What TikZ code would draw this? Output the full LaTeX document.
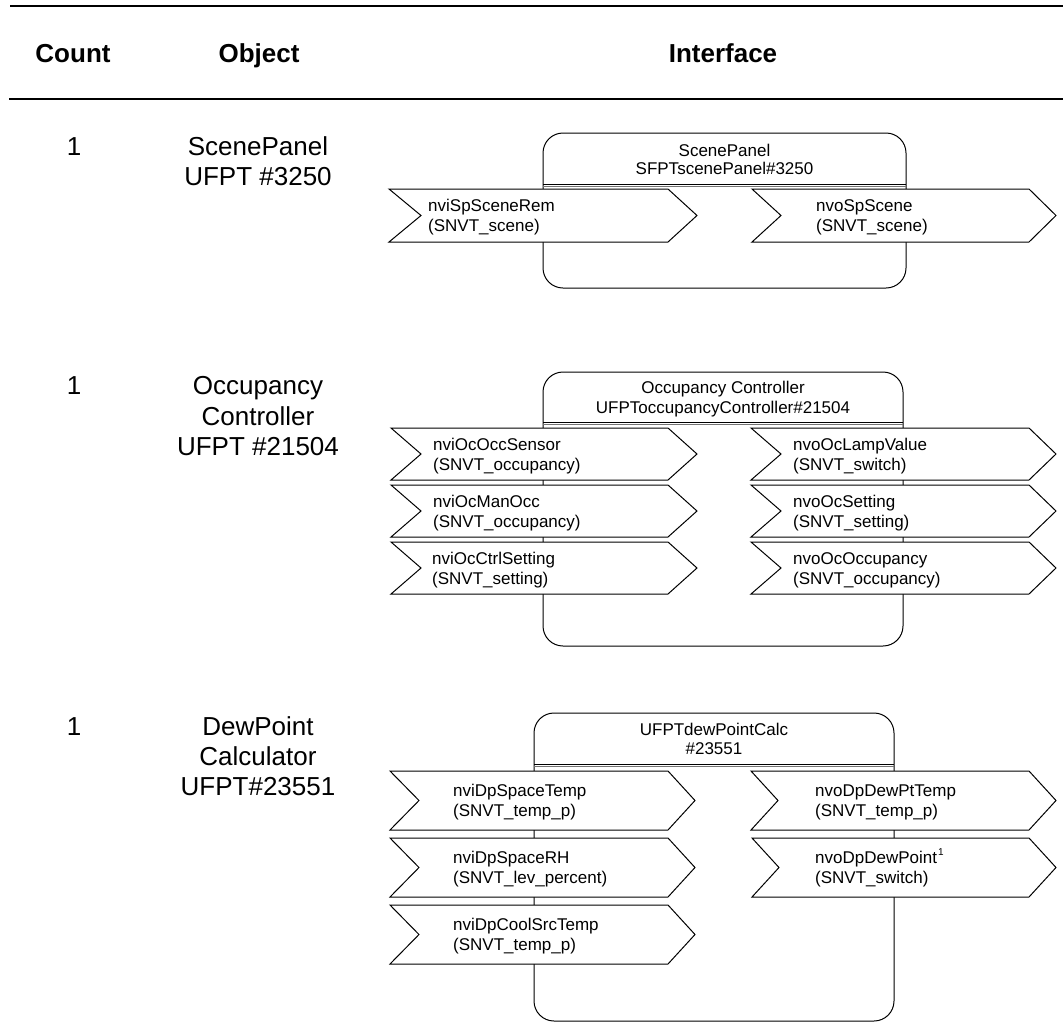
\documentclass[tikz,border=0pt]{standalone}
\usepackage{fontspec}
\setmainfont{Liberation Sans}
\tikzset{
  hdr/.style={font=\fontsize{26}{30}\selectfont\bfseries, inner sep=0pt, anchor=base},
  col/.style={font=\fontsize{26}{30}\selectfont, inner sep=0pt, anchor=base},
  ttl/.style={font=\fontsize{17}{20}\selectfont, inner sep=0pt, anchor=base},
  ptxt/.style={font=\fontsize{17}{20}\selectfont, inner sep=0pt, anchor=base west},
  sup/.style={font=\fontsize{10}{11}\selectfont, inner sep=0pt, anchor=base west},
  port/.style={draw=black, fill=white, line width=1pt, line join=miter},
  fbbox/.style={draw=black, line width=1pt, rounded corners=20pt},
  divline/.style={draw=black, line width=1pt},
  divline2/.style={draw=black!55, line width=0.6pt},
  hrule/.style={draw=black, line width=2.6pt},
}
% #1 left x, #2 notch x, #3 straight end x, #4 tip x, #5 top y, #6 bottom y
\newcommand\portshape[6]{%
  \draw[port] (#1,#5) -- (#3,#5) -- (#4,{(#5+#6)/2}) -- (#3,#6) -- (#1,#6) -- (#2,{(#5+#6)/2}) -- cycle;}
\begin{document}
\begin{tikzpicture}[x=1pt,y=-1pt]
\useasboundingbox (0,0) rectangle (1063,1023);
\fill[white] (0,0) rectangle (1063,1023);

% header
\draw[hrule] (10,6) -- (1063,6);
\draw[hrule] (9,99) -- (1063,99);
\node[hdr] (hcount) at (73,62) {Count};
\node[hdr] (hobject) at (259,62) {Object};
\node[hdr] (hiface) at (723,62) {Interface};

% left columns
\node[col] (c1) at (74,155) {1};
\node[col] (o1a) at (258,155) {ScenePanel};
\node[col] (o1b) at (258,185) {UFPT \#3250};

\node[col] (c2) at (74,394) {1};
\node[col] (o2a) at (258,394) {Occupancy};
\node[col] (o2b) at (258,425) {Controller};
\node[col] (o2c) at (258,455) {UFPT \#21504};

\node[col] (c3) at (74,735) {1};
\node[col] (o3a) at (258,735) {DewPoint};
\node[col] (o3b) at (258,765) {Calculator};
\node[col] (o3c) at (258,795) {UFPT\#23551};

% ===== Block 1 =====
\draw[fbbox] (543,133) rectangle (906,288);
\draw[divline] (543,184) -- (906,184);
\draw[divline2] (543,186.5) -- (906,186.5);
\node[ttl] (t1a) at (724.5,156) {ScenePanel};
\node[ttl] (t1b) at (724.5,174) {SFPTscenePanel\#3250};
\portshape{389}{421}{668}{697}{189}{242}
\portshape{752}{781}{1029}{1056}{189}{242}
\node[ptxt] (p11a) at (428,211) {nviSpSceneRem};
\node[ptxt] (p11b) at (428,231) {(SNVT\_scene)};
\node[ptxt] (p12a) at (816,211) {nvoSpScene};
\node[ptxt] (p12b) at (816,231) {(SNVT\_scene)};

% ===== Block 2 =====
\draw[fbbox] (543,372) rectangle (903,646);
\draw[divline] (543,422) -- (903,422);
\draw[divline2] (543,424.5) -- (903,424.5);
\node[ttl] (t2a) at (723,393) {Occupancy Controller};
\node[ttl] (t2b) at (723,413) {UFPToccupancyController\#21504};
\portshape{391}{421}{668}{697}{428}{480}
\portshape{391}{421}{668}{697}{485}{537}
\portshape{391}{421}{668}{697}{542}{594}
\portshape{751}{781}{1029}{1056}{428}{480}
\portshape{751}{781}{1029}{1056}{485}{537}
\portshape{751}{781}{1029}{1056}{542}{594}
\node[ptxt] (p21a) at (433,450) {nviOcOccSensor};
\node[ptxt] (p21b) at (433,470) {(SNVT\_occupancy)};
\node[ptxt] (p22a) at (433,507) {nviOcManOcc};
\node[ptxt] (p22b) at (433,527) {(SNVT\_occupancy)};
\node[ptxt] (p23a) at (432,564) {nviOcCtrlSetting};
\node[ptxt] (p23b) at (432,584) {(SNVT\_setting)};
\node[ptxt] (q21a) at (793,450) {nvoOcLampValue};
\node[ptxt] (q21b) at (793,470) {(SNVT\_switch)};
\node[ptxt] (q22a) at (793,507) {nvoOcSetting};
\node[ptxt] (q22b) at (793,527) {(SNVT\_setting)};
\node[ptxt] (q23a) at (793,564) {nvoOcOccupancy};
\node[ptxt] (q23b) at (793,584) {(SNVT\_occupancy)};

% ===== Block 3 =====
\draw[fbbox] (534,713) rectangle (894,1021);
\draw[divline] (534,764) -- (894,764);
\draw[divline2] (534,766.5) -- (894,766.5);
\node[ttl] (t3a) at (714,735) {UFPTdewPointCalc};
\node[ttl] (t3b) at (714,754) {\#23551};
\portshape{390}{419}{668}{695}{771}{830}
\portshape{390}{419}{668}{695}{838}{897}
\portshape{390}{419}{668}{695}{905}{964}
\portshape{751}{778}{1029}{1056}{771}{830}
\portshape{752}{779}{1029}{1056}{838}{897}
\node[ptxt] (p31a) at (453,796) {nviDpSpaceTemp};
\node[ptxt] (p31b) at (453,816) {(SNVT\_temp\_p)};
\node[ptxt] (p32a) at (453,863) {nviDpSpaceRH};
\node[ptxt] (p32b) at (453,883) {(SNVT\_lev\_percent)};
\node[ptxt] (p33a) at (453,930) {nviDpCoolSrcTemp};
\node[ptxt] (p33b) at (453,950) {(SNVT\_temp\_p)};
\node[ptxt] (q31a) at (815,796) {nvoDpDewPtTemp};
\node[ptxt] (q31b) at (815,816) {(SNVT\_temp\_p)};
\node[ptxt] (q32a) at (815,863) {nvoDpDewPoint};
\node[ptxt] (q32b) at (815,883) {(SNVT\_switch)};
\node[sup] (q32s) at ([xshift=0.5pt,yshift=8pt]q32a.base east) {1};
\end{tikzpicture}
\end{document}
